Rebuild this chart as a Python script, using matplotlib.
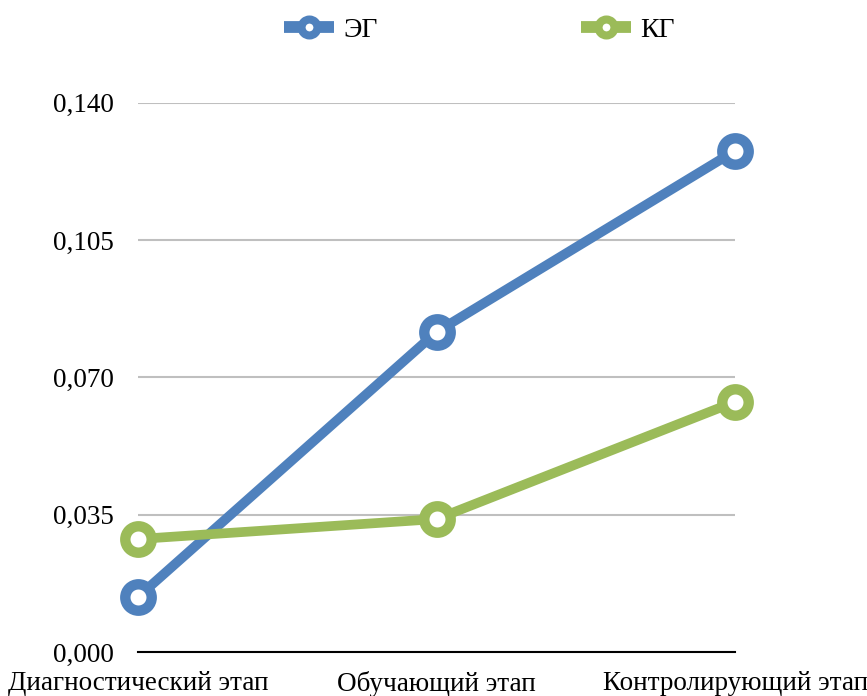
import matplotlib.pyplot as plt
from matplotlib.lines import Line2D
from matplotlib.ticker import FuncFormatter

stages = ['Диагностический этап', 'Обучающий этап', 'Контролирующий этап']
eg = [0.0140, 0.0816, 0.1278]
kg = [0.0288, 0.0339, 0.0638]
yticks = [0.0, 0.035, 0.070, 0.105, 0.140]

blue = '#4F81BD'
green = '#9BBB59'

plt.rcParams['font.family'] = ['Liberation Serif', 'DejaVu Serif']

fig = plt.figure(figsize=(8.67, 6.96), dpi=100)
ax = fig.add_axes([0.159, 0.0632, 0.689, 0.789])

x = range(len(stages))
for vals, c in [(eg, blue), (kg, green)]:
    ax.plot(x, vals, color=c, lw=7, marker='o', ms=19, mew=7.5,
            mfc='white', mec=c, solid_capstyle='round', clip_on=False, zorder=3)

ax.set_xlim(0, 2)
ax.set_ylim(0, 0.14)
ax.set_yticks(yticks)
ax.yaxis.set_major_formatter(FuncFormatter(lambda v, p: f'{v:.3f}'.replace('.', ',')))
ax.set_xticks(list(x))
ax.set_xticklabels(stages)
ax.tick_params(axis='both', length=0, labelsize=19.5)
ax.tick_params(axis='y', pad=17)
ax.tick_params(axis='x', pad=14)
ax.grid(axis='y', color='#BFBFBF', lw=1.5)
ax.set_axisbelow(True)
for s in ['top', 'right', 'left']:
    ax.spines[s].set_visible(False)
ax.spines['bottom'].set_linewidth(1.5)
ax.spines['bottom'].set_zorder(2)

handles = [Line2D([], [], color=blue, lw=8.5, marker='o', ms=11.5, mew=5.8, mfc='white', mec=blue,
                  solid_capstyle='butt'),
           Line2D([], [], color=green, lw=8.5, marker='o', ms=11.5, mew=5.8, mfc='white', mec=green,
                  solid_capstyle='butt')]
fig.legend(handles, ['ЭГ', 'КГ'], loc='center', bbox_to_anchor=(0.553, 0.957), ncol=2,
           frameon=False, fontsize=20, handlelength=1.8, handletextpad=0.35, columnspacing=7.3)

fig.savefig('out.png', dpi=100)
